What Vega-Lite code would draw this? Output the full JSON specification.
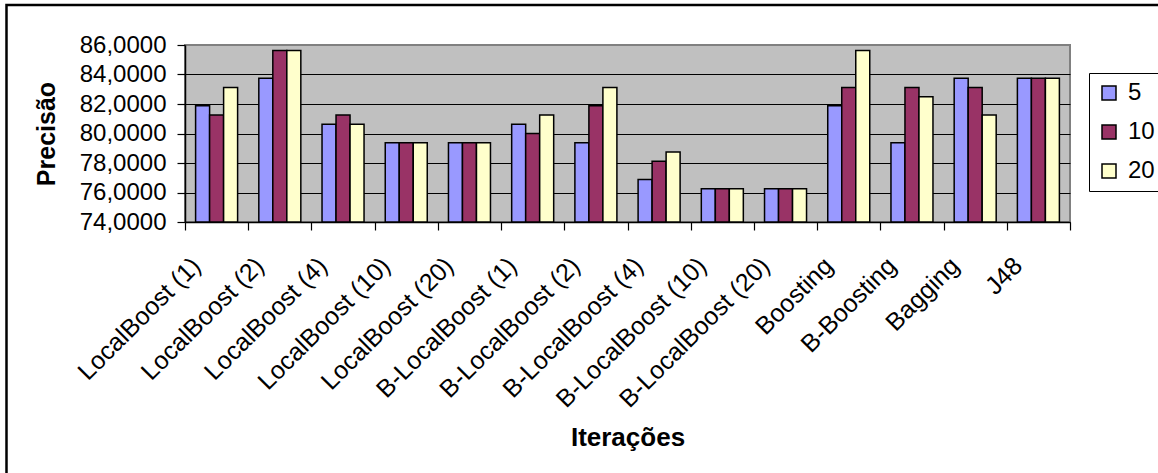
{
  "$schema": "https://vega.github.io/schema/vega-lite/v6.json",
  "width": 885,
  "height": 177,
  "autosize": "none",
  "padding": {"left": 185, "top": 45, "right": 88, "bottom": 251},
  "background": "white",
  "config": {
    "font": "Liberation Sans",
    "view": {"stroke": "#808080", "strokeWidth": 2, "fill": "#C0C0C0"},
    "axis": {
      "labelColor": "black",
      "titleColor": "black",
      "domainColor": "black",
      "domainWidth": 1.5,
      "tickColor": "black",
      "tickWidth": 1.2,
      "tickSize": 8,
      "labelFont": "Liberation Sans",
      "titleFont": "Liberation Sans"
    },
    "legend": {
      "labelFont": "Liberation Sans"
    }
  },
  "data": {
    "values": [
      {"metodo": "LocalBoost (1)", "iteracoes": "5", "precisao": 81.875},
      {"metodo": "LocalBoost (1)", "iteracoes": "10", "precisao": 81.25},
      {"metodo": "LocalBoost (1)", "iteracoes": "20", "precisao": 83.125},
      {"metodo": "LocalBoost (2)", "iteracoes": "5", "precisao": 83.75},
      {"metodo": "LocalBoost (2)", "iteracoes": "10", "precisao": 85.625},
      {"metodo": "LocalBoost (2)", "iteracoes": "20", "precisao": 85.625},
      {"metodo": "LocalBoost (4)", "iteracoes": "5", "precisao": 80.625},
      {"metodo": "LocalBoost (4)", "iteracoes": "10", "precisao": 81.25},
      {"metodo": "LocalBoost (4)", "iteracoes": "20", "precisao": 80.625},
      {"metodo": "LocalBoost (10)", "iteracoes": "5", "precisao": 79.375},
      {"metodo": "LocalBoost (10)", "iteracoes": "10", "precisao": 79.375},
      {"metodo": "LocalBoost (10)", "iteracoes": "20", "precisao": 79.375},
      {"metodo": "LocalBoost (20)", "iteracoes": "5", "precisao": 79.375},
      {"metodo": "LocalBoost (20)", "iteracoes": "10", "precisao": 79.375},
      {"metodo": "LocalBoost (20)", "iteracoes": "20", "precisao": 79.375},
      {"metodo": "B-LocalBoost (1)", "iteracoes": "5", "precisao": 80.625},
      {"metodo": "B-LocalBoost (1)", "iteracoes": "10", "precisao": 80.0},
      {"metodo": "B-LocalBoost (1)", "iteracoes": "20", "precisao": 81.25},
      {"metodo": "B-LocalBoost (2)", "iteracoes": "5", "precisao": 79.375},
      {"metodo": "B-LocalBoost (2)", "iteracoes": "10", "precisao": 81.875},
      {"metodo": "B-LocalBoost (2)", "iteracoes": "20", "precisao": 83.125},
      {"metodo": "B-LocalBoost (4)", "iteracoes": "5", "precisao": 76.875},
      {"metodo": "B-LocalBoost (4)", "iteracoes": "10", "precisao": 78.125},
      {"metodo": "B-LocalBoost (4)", "iteracoes": "20", "precisao": 78.75},
      {"metodo": "B-LocalBoost (10)", "iteracoes": "5", "precisao": 76.25},
      {"metodo": "B-LocalBoost (10)", "iteracoes": "10", "precisao": 76.25},
      {"metodo": "B-LocalBoost (10)", "iteracoes": "20", "precisao": 76.25},
      {"metodo": "B-LocalBoost (20)", "iteracoes": "5", "precisao": 76.25},
      {"metodo": "B-LocalBoost (20)", "iteracoes": "10", "precisao": 76.25},
      {"metodo": "B-LocalBoost (20)", "iteracoes": "20", "precisao": 76.25},
      {"metodo": "Boosting", "iteracoes": "5", "precisao": 81.875},
      {"metodo": "Boosting", "iteracoes": "10", "precisao": 83.125},
      {"metodo": "Boosting", "iteracoes": "20", "precisao": 85.625},
      {"metodo": "B-Boosting", "iteracoes": "5", "precisao": 79.375},
      {"metodo": "B-Boosting", "iteracoes": "10", "precisao": 83.125},
      {"metodo": "B-Boosting", "iteracoes": "20", "precisao": 82.5},
      {"metodo": "Bagging", "iteracoes": "5", "precisao": 83.75},
      {"metodo": "Bagging", "iteracoes": "10", "precisao": 83.125},
      {"metodo": "Bagging", "iteracoes": "20", "precisao": 81.25},
      {"metodo": "J48", "iteracoes": "5", "precisao": 83.75},
      {"metodo": "J48", "iteracoes": "10", "precisao": 83.75},
      {"metodo": "J48", "iteracoes": "20", "precisao": 83.75}
    ]
  },
  "layer": [
    {
      "data": {"values": [{}]},
      "mark": {"type": "rect", "fill": null, "stroke": "black", "strokeWidth": 2.5, "clip": false},
      "encoding": {
        "x": {"datum": -0.2017, "type": "quantitative", "scale": {"domain": [0, 1]}, "axis": null},
        "x2": {"datum": 1.3},
        "y": {"datum": 88.712, "type": "quantitative", "scale": {"domain": [74, 86]}, "axis": null},
        "y2": {"datum": 40}
      }
    },
    {
      "mark": {"type": "bar", "stroke": "black", "strokeWidth": 1.5},
      "encoding": {
        "x": {
          "field": "metodo",
          "type": "nominal",
          "sort": null,
          "scale": {"paddingInner": 0, "paddingOuter": 0},
          "axis": {
            "title": "Iterações",
            "titleFontSize": 26,
            "titleFontWeight": "bold",
            "titlePadding": 12,
            "labelFontSize": 25,
            "labelAngle": -45,
            "labelAlign": "right",
            "labelBaseline": "alphabetic",
            "labelPadding": 37,
            "labelOffset": -15,
            "labelLimit": 400,
            "tickBand": "extent",
            "labelOverlap": false
          }
        },
        "xOffset": {
          "field": "iteracoes",
          "type": "nominal",
          "sort": ["5", "10", "20"],
          "scale": {"paddingInner": 0, "paddingOuter": 0.757}
        },
        "y": {
          "field": "precisao",
          "type": "quantitative",
          "stack": null,
          "scale": {"domain": [74, 86], "zero": false, "nice": false},
          "axis": {
            "title": "Precisão",
            "titleFontSize": 25,
            "titleFontWeight": "bold",
            "titlePadding": 20,
            "values": [74, 76, 78, 80, 82, 84, 86],
            "labelExpr": "replace(format(datum.value, '.4f'), '.', ',')",
            "labelFontSize": 24,
            "labelPadding": 11,
            "grid": true,
            "gridColor": {"condition": {"test": "datum.value == 86", "value": "#808080"}, "value": "black"},
            "gridWidth": 1.2
          }
        },
        "y2": {"datum": 74},
        "fill": {
          "field": "iteracoes",
          "type": "nominal",
          "sort": ["5", "10", "20"],
          "scale": {"domain": ["5", "10", "20"], "range": ["#9999FF", "#993366", "#FFFFCC"]},
          "legend": {
            "title": null,
            "orient": "none",
            "legendX": 904,
            "legendY": 28,
            "fillColor": "white",
            "strokeColor": "black",
            "padding": 8,
            "symbolType": "square",
            "symbolSize": 196,
            "symbolStrokeColor": "black",
            "symbolStrokeWidth": 1.5,
            "labelFontSize": 24,
            "labelColor": "black",
            "labelOffset": 7,
            "rowPadding": 15
          }
        }
      }
    }
  ],
  "resolve": {"scale": {"x": "independent", "y": "independent"}}
}
